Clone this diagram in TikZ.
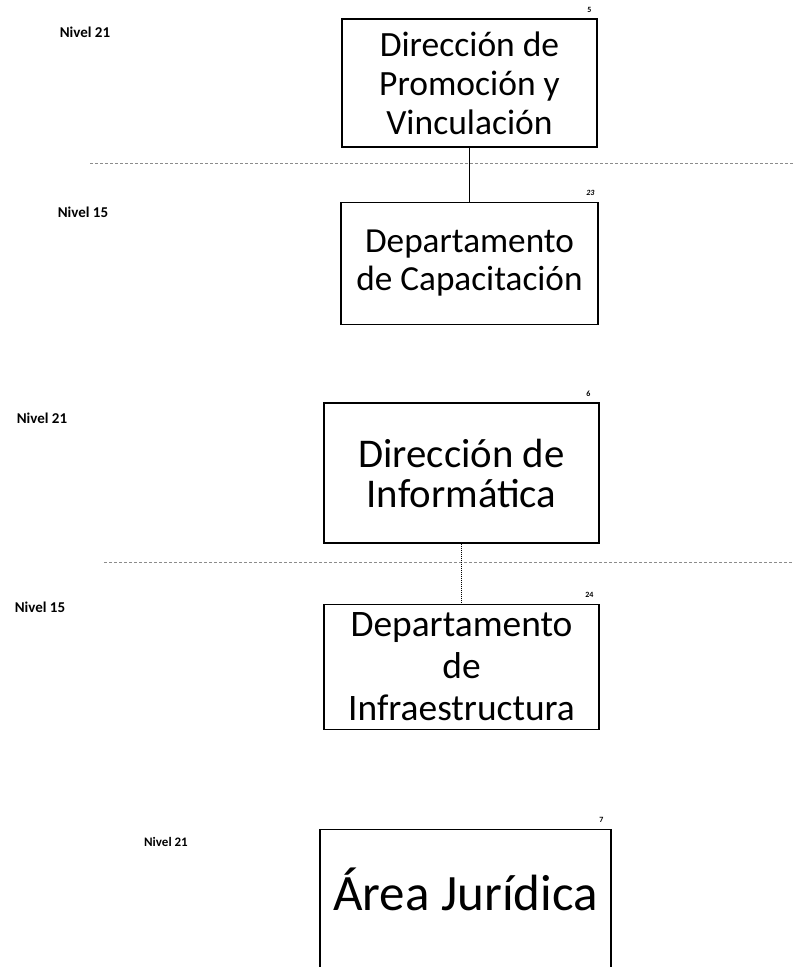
\documentclass[tikz,border=0pt]{standalone}
\usepackage{fontspec}
\setmainfont{Carlito}
\usetikzlibrary{positioning}
\tikzstyle{caja}=[draw=black, line width=1.2pt, align=center, inner sep=0pt]
\tikzstyle{nivel}=[font=\bfseries\fontsize{15}{18}\selectfont]
\tikzstyle{num}=[font=\bfseries\fontsize{8}{9}\selectfont, inner sep=0pt]
\tikzstyle{separador}=[black!45, line width=0.7pt, dash pattern=on 3pt off 2pt]
\tikzstyle{conector}=[black, line width=1pt]

\begin{document}
\begin{tikzpicture}[x=1pt, y=-1pt]
	\useasboundingbox (0,0) rectangle (794,967);
	\clip (0,0) rectangle (794,967);
	\node[nivel] (n21a) at (85,32) {Nivel 21};
	\node[nivel] (n15a) at (83,212) {Nivel 15};
	\node[nivel] (n21b) at (42,418) {Nivel 21};
	\node[nivel] (n15b) at (40,607) {Nivel 15};
	\node[nivel, font=\bfseries\fontsize{13}{15}\selectfont] (n21c) at (166,842) {Nivel 21};
	\node[caja, minimum width=255pt, minimum height=128pt, font=\fontsize{35.5}{39}\selectfont, label={[num, anchor=south east, xshift=-6pt, yshift=6pt]north east:5}] (dir1) at (469.5,83) {Dirección de\\Promoción y\\Vinculación};
	\node[caja, below=54pt of dir1, minimum width=257pt, minimum height=122pt, font=\fontsize{35.2}{38}\selectfont, label={[num, font=\bfseries\itshape\fontsize{8}{9}\selectfont, anchor=south east, xshift=-4pt, yshift=6pt]north east:23}] (dep1) {Departamento\\de Capacitación};
	\node[caja, minimum width=275pt, minimum height=140pt, font=\fontsize{40.8}{40}\selectfont, label={[num, anchor=south east, xshift=-9pt, yshift=6pt]north east:6}] (dir2) at (461.5,473) {Dirección de\\Informática};
	\node[caja, below=60pt of dir2, minimum width=275pt, minimum height=125pt, font=\fontsize{37.4}{42}\selectfont, label={[num, anchor=south east, xshift=-6pt, yshift=6pt]north east:24}] (dep2) {Departamento\\de\\Infraestructura};
	\node[caja, anchor=north, minimum width=291pt, text height=81pt, text depth=70pt, font=\fontsize{51}{56}\selectfont, label={[num, anchor=south east, xshift=-8pt, yshift=6pt]north east:7}] (area) at (465.5,829) {Área Jurídica};
	\draw[separador] (90,163) -- (794,163);
	\draw[separador] (104,562) -- (794,562);
	\draw[conector] (dir1) -- (dep1);
	\draw[conector, densely dotted] (dir2) -- (dep2);
\end{tikzpicture}
\end{document}
